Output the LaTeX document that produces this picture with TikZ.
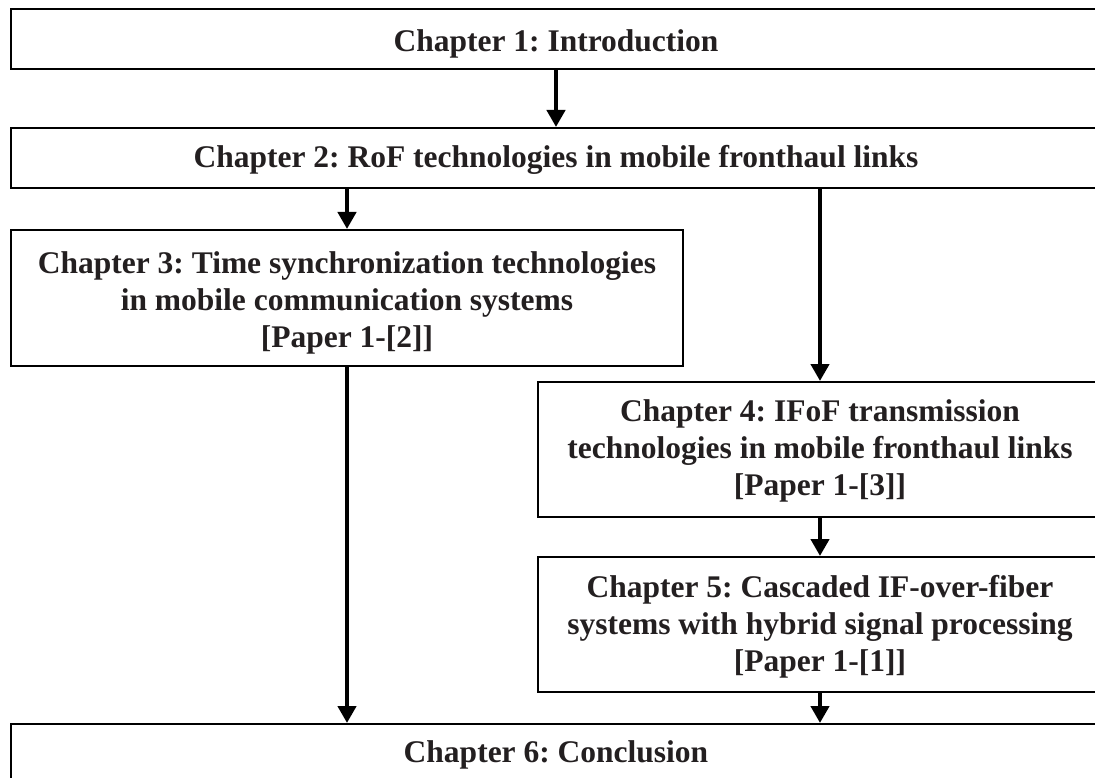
\documentclass[tikz,border=0pt]{standalone}
\usepackage{fontspec}
\setmainfont{Liberation Serif}
\usetikzlibrary{arrows.meta}
\definecolor{inkgray}{HTML}{231F20}
\frenchspacing
\begin{document}
\begin{tikzpicture}[x=1pt,y=-1pt,
  chapbox/.style={draw=black, line width=2pt, fill=white, inner sep=0pt},
  chaptext/.style={align=center, text=inkgray, inner sep=0pt,
    font=\fontsize{31.5}{37}\selectfont\bfseries},
  flow/.style={line width=4.5pt, -{Triangle[width=18pt,length=17pt]}}]
\useasboundingbox (0,0) rectangle (1095,778);
\clip (0,0) rectangle (1095,778);

% chapter boxes (the wide ones run past the right edge)
\node[chapbox, minimum width=1090pt, minimum height=60pt,
  label={[chaptext, yshift=-5pt]center:Chapter 1: Introduction}] (c1) at (556,39) {};
\node[chapbox, minimum width=1090pt, minimum height=60pt,
  label={[chaptext, yshift=-2pt]center:Chapter 2: RoF technologies in mobile fronthaul links}] (c2) at (556,158) {};
\node[chapbox, minimum width=672pt, minimum height=136pt,
  label={[chaptext, yshift=-5pt]center:{Chapter 3: Time synchronization technologies\\in mobile communication systems\\{[Paper 1-[2]]}}}] (c3) at (347,298) {};
\node[chapbox, minimum width=564pt, minimum height=135pt,
  label={[chaptext, yshift=-1pt]center:{Chapter 4: IFoF transmission\\technologies in mobile fronthaul links\\{[Paper 1-[3]]}}}] (c4) at (820,449.5) {};
\node[chapbox, minimum width=564pt, minimum height=135pt,
  label={[chaptext, yshift=-2pt]center:{Chapter 5: Cascaded IF-over-fiber\\systems with hybrid signal processing\\{[Paper 1-[1]]}}}] (c5) at (820,624.5) {};
\node[chapbox, minimum width=1090pt, minimum height=60pt,
  label={[chaptext, yshift=-1pt]center:Chapter 6: Conclusion}] (c6) at (556,754) {};

% connectors
\draw[flow] (c1.south) -- (c2.north);
\draw[flow] (c2.south -| c3.north) -- (c3.north);
\draw[flow] (c2.south -| c4.north) -- (c4.north);
\draw[flow] (c3.south) -- (c3.south |- c6.north);
\draw[flow] (c4.south) -- (c5.north);
\draw[flow] (c5.south) -- (c5.south |- c6.north);
\end{tikzpicture}
\end{document}
